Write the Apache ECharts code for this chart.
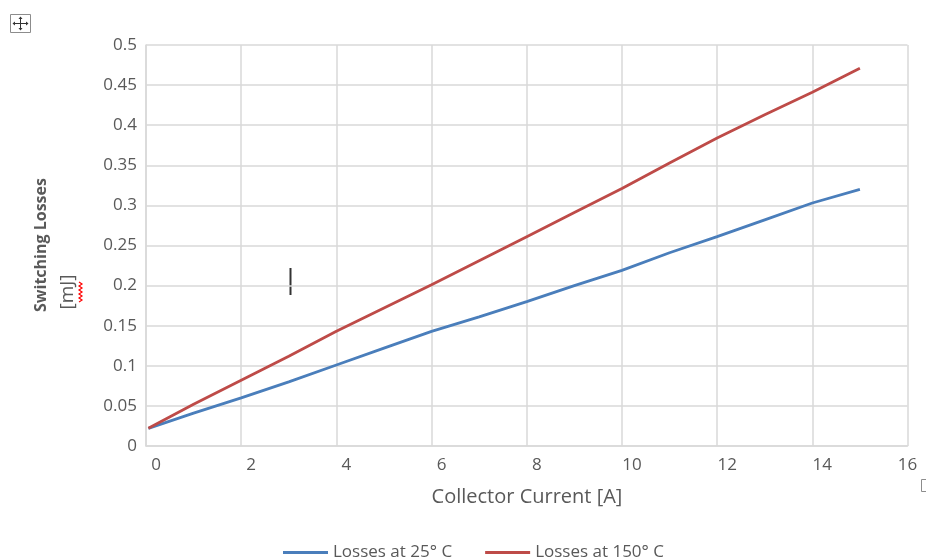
<!DOCTYPE html>
<html>
<head>
<meta charset="utf-8">
<script src="https://cdn.jsdelivr.net/npm/echarts@6/dist/echarts.min.js"></script>
<style>
  html, body { margin: 0; padding: 0; background: #fff; }
  #chart { width: 926px; height: 558px; }
</style>
</head>
<body>
<div id="chart"></div>
<script>
// Collector current [A]
const current = [0.05, 1, 2, 3, 4, 5, 6, 7, 8, 9, 10, 11, 12, 13, 14, 15];
// Switching losses [mJ] at two junction temperatures
const losses25 = [0.022, 0.041, 0.060, 0.080, 0.101, 0.122, 0.143, 0.161, 0.180, 0.200, 0.219, 0.241, 0.261, 0.282, 0.303, 0.320];
const losses150 = [0.022, 0.052, 0.082, 0.112, 0.143, 0.172, 0.201, 0.231, 0.261, 0.291, 0.321, 0.353, 0.384, 0.413, 0.441, 0.471];
const seriesNames = ['Losses at 25° C', 'Losses at 150° C'];
const xTicks = [0, 2, 4, 6, 8, 10, 12, 14, 16];
const yTicks = [0, 0.05, 0.1, 0.15, 0.2, 0.25, 0.3, 0.35, 0.4, 0.45, 0.5];

const pairs = (xs, ys) => xs.map((x, i) => [x, ys[i]]);

const grey = '#595959';
const gridColor = '#d9d9d9';

const chart = echarts.init(document.getElementById('chart'), null, { renderer: 'canvas' });

chart.setOption({
  backgroundColor: '#ffffff',
  animation: false,
  grid: { left: 146, right: 18.5, top: 45, bottom: 112, containLabel: false },
  xAxis: {
    type: 'value',
    min: xTicks[0],
    max: xTicks[xTicks.length - 1],
    interval: 2,
    axisLine: { show: true, lineStyle: { color: gridColor, width: 1.5 } },
    axisTick: { show: false },
    splitLine: { show: true, lineStyle: { color: gridColor, width: 1.5 } },
    axisLabel: {
      color: grey,
      fontFamily: 'Open Sans',
      fontSize: 17,
      margin: 11,
      // labels sit a little to the right of their gridlines, except the last
      formatter: v => (v < xTicks[xTicks.length - 1] ? '{s|' + v + '}' : '{e|' + v + '}'),
      rich: {
        s: { padding: [0, 0, 0, 20], color: grey, fontFamily: 'Open Sans', fontSize: 17 },
        e: { color: grey, fontFamily: 'Open Sans', fontSize: 17 }
      }
    }
  },
  yAxis: {
    type: 'value',
    min: yTicks[0],
    max: yTicks[yTicks.length - 1],
    interval: 0.05,
    axisLine: { show: true, lineStyle: { color: gridColor, width: 1.5 } },
    axisTick: { show: false },
    splitLine: { show: true, lineStyle: { color: gridColor, width: 1.5 } },
    axisLabel: {
      color: grey,
      fontFamily: 'Open Sans',
      fontSize: 17,
      margin: 9,
      formatter: v => String(+v.toFixed(2))
    }
  },
  legend: {
    left: 278,
    top: 539,
    itemWidth: 45,
    itemHeight: 3,
    itemGap: 33,
    icon: 'rect',
    textStyle: { color: grey, fontFamily: 'Open Sans', fontSize: 17 },
    data: seriesNames
  },
  series: [
    {
      name: seriesNames[0],
      type: 'line',
      data: pairs(current, losses25),
      showSymbol: false,
      smooth: false,
      lineStyle: { color: '#4a7ebb', width: 2.8 },
      itemStyle: { color: '#4a7ebb' }
    },
    {
      name: seriesNames[1],
      type: 'line',
      data: pairs(current, losses150),
      showSymbol: false,
      smooth: false,
      lineStyle: { color: '#be4b48', width: 2.8 },
      itemStyle: { color: '#be4b48' }
    }
  ],
  graphic: [
    // axis titles
    {
      type: 'text',
      x: 527, y: 497,
      style: {
        text: 'Collector Current [A]',
        fill: grey,
        font: '20px "Open Sans"',
        align: 'center',
        verticalAlign: 'middle'
      }
    },
    {
      type: 'text',
      x: 41, y: 245,
      rotation: Math.PI / 2,
      style: {
        text: 'Switching Losses',
        fill: grey,
        font: 'bold 16px "Open Sans"',
        align: 'center',
        verticalAlign: 'middle'
      }
    },
    {
      type: 'text',
      x: 68, y: 292,
      rotation: Math.PI / 2,
      style: {
        text: '[mJ]',
        fill: grey,
        font: '19px "Open Sans"',
        align: 'center',
        verticalAlign: 'middle'
      }
    },
    // spell-check squiggle under "mJ"
    {
      type: 'polyline',
      shape: {
        points: [[79, 282], [82, 284], [79, 286], [82, 288], [79, 290], [82, 292], [79, 294], [82, 296], [79, 298], [82, 300], [79, 302]]
      },
      style: { stroke: '#ff0000', lineWidth: 1.2, fill: null }
    },
    // text caret
    {
      type: 'line',
      shape: { x1: 290.5, y1: 268, x2: 290.5, y2: 295 },
      style: { stroke: '#333333', lineWidth: 2 }
    },
    // move handle in the corner
    {
      type: 'rect',
      shape: { x: 10.5, y: 14.5, width: 20, height: 18 },
      style: { stroke: '#8c8c8c', lineWidth: 1, fill: '#ffffff' }
    },
    {
      type: 'line',
      shape: { x1: 20.5, y1: 17, x2: 20.5, y2: 30 },
      style: { stroke: '#333333', lineWidth: 1 }
    },
    {
      type: 'line',
      shape: { x1: 13, y1: 23.5, x2: 28, y2: 23.5 },
      style: { stroke: '#333333', lineWidth: 1 }
    },
    {
      type: 'polygon',
      shape: { points: [[20.5, 16.5], [18.5, 19], [22.5, 19]] },
      style: { fill: '#333333' }
    },
    {
      type: 'polygon',
      shape: { points: [[20.5, 30.5], [18.5, 28], [22.5, 28]] },
      style: { fill: '#333333' }
    },
    {
      type: 'polygon',
      shape: { points: [[12.5, 23.5], [15, 21.5], [15, 25.5]] },
      style: { fill: '#333333' }
    },
    {
      type: 'polygon',
      shape: { points: [[28.5, 23.5], [26, 21.5], [26, 25.5]] },
      style: { fill: '#333333' }
    },
    // small clipped box at the right edge
    {
      type: 'rect',
      shape: { x: 921.5, y: 479.5, width: 8, height: 12 },
      style: { stroke: '#8c8c8c', lineWidth: 1, fill: null }
    }
  ]
});
</script>
</body>
</html>
